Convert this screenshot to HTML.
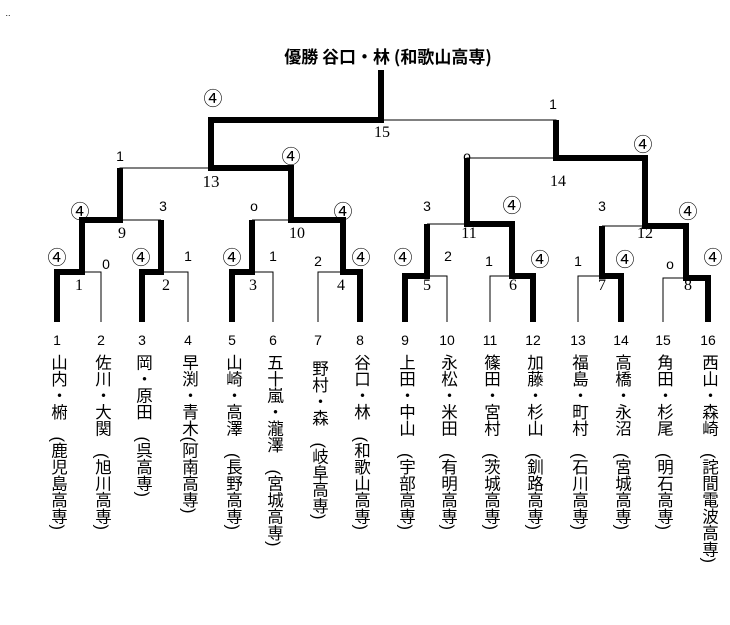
<!DOCTYPE html>
<html><head><meta charset="utf-8"><style>
body{margin:0;width:730px;height:625px;background:#fff;position:relative;overflow:hidden;font-family:"Liberation Serif","Noto Serif CJK SC","Noto Sans CJK JP",serif;}
svg{position:absolute;left:0;top:0}
.v{position:absolute;top:354px;writing-mode:vertical-rl;font-size:16.5px;line-height:17px;font-family:"Liberation Sans","Noto Sans CJK JP",sans-serif;color:#000;transform:translateX(-50%);}
</style></head><body>
<svg width="730" height="625" font-family="Liberation Sans, Noto Sans CJK JP, sans-serif" font-size="13" text-anchor="middle">
<text x="8" y="16" font-size="9">..</text>
<text x="388" y="63" font-size="17" font-weight="bold" font-family="Noto Sans CJK JP, sans-serif">優勝 谷口・林 (和歌山高専)</text>
<g stroke="#000" fill="none" stroke-width="1">
<path d="M381 120H556V158M120 220V168H211M467 224V158H556M120 220H161M252 220H291M427 224H467M602 226H645"/>
<path d="M82 272H101V322M161 272H188V322M252 272H273V322M318 322V272H343M427 276H447V322M490 322V276H512M578 322V276H602M663 322V278H686"/>
</g>
<g stroke="#000" fill="none" stroke-width="6" stroke-linejoin="miter">
<path d="M381 70V120H211V168H291V220H343V272H360V322"/>
<path d="M556 120V158H645V226H686V278H708V322"/>
<path d="M120 168V220H82V272H57V322"/>
<path d="M161 220V272H142V322"/>
<path d="M252 220V272H232V322"/>
<path d="M467 158V224H512V276H533V322"/>
<path d="M427 224V276H405V322"/>
<path d="M602 226V276H621V322"/>
</g>
<g font-size="14">
<g font-size="19">
<text x="213" y="105">④</text><text x="291" y="163">④</text><text x="643" y="151">④</text>
<text x="80" y="218">④</text><text x="343" y="218">④</text><text x="512" y="212">④</text><text x="688" y="218">④</text>
<text x="57" y="264">④</text><text x="141" y="264">④</text><text x="232" y="264">④</text><text x="361" y="264">④</text>
<text x="403" y="264">④</text><text x="540" y="266">④</text><text x="625" y="266">④</text><text x="713" y="264">④</text>
</g>
<text x="553" y="109">1</text>
<text x="382" y="137" font-family="Liberation Serif, serif" font-size="16">15</text>
<text x="120" y="161">1</text>
<text x="211" y="187" font-size="17" font-family="Liberation Serif, serif">13</text>
<text x="467" y="161">o</text>
<text x="558" y="186" font-family="Liberation Serif, serif" font-size="16">14</text>
<text x="163" y="211">3</text><text x="122" y="238" font-family="Liberation Serif, serif" font-size="16">9</text>
<text x="254" y="211">o</text><text x="297" y="238" font-family="Liberation Serif, serif" font-size="16">10</text>
<text x="427" y="211">3</text><text x="469" y="238" font-family="Liberation Serif, serif" font-size="16">11</text>
<text x="602" y="211">3</text><text x="645" y="238" font-family="Liberation Serif, serif" font-size="16">12</text>
<text x="106" y="269">0</text><text x="188" y="261">1</text><text x="273" y="261">1</text>
<text x="318" y="266">2</text><text x="448" y="261">2</text><text x="489" y="266">1</text>
<text x="578" y="266">1</text><text x="670" y="269">o</text>
<g font-family="Liberation Serif, serif" font-size="16">
<text x="79" y="290">1</text><text x="166" y="290">2</text><text x="253" y="290">3</text><text x="341" y="290">4</text>
<text x="427" y="290">5</text><text x="513" y="290">6</text><text x="602" y="290">7</text><text x="688" y="290">8</text>
</g>
</g>
<g font-size="14">
<text x="57" y="345">1</text><text x="101" y="345">2</text><text x="142" y="345">3</text><text x="188" y="345">4</text>
<text x="232" y="345">5</text><text x="273" y="345">6</text><text x="318" y="345">7</text><text x="360" y="345">8</text>
<text x="405" y="345">9</text><text x="447" y="345">10</text><text x="490" y="345">11</text><text x="533" y="345">12</text>
<text x="578" y="345">13</text><text x="621" y="345">14</text><text x="663" y="345">15</text><text x="708" y="345">16</text>
</g>
</svg>
<div class="v" style="left:57px">山内・椨　(鹿児島高専)</div>
<div class="v" style="left:101px">佐川・大関　(旭川高専)</div>
<div class="v" style="left:142px">岡・原田　(呉高専)</div>
<div class="v" style="left:188px">早渕・青木(阿南高専)</div>
<div class="v" style="left:232px">山崎・高澤　(長野高専)</div>
<div class="v" style="left:273px">五十嵐・瀧澤　(宮城高専)</div>
<div class="v" style="left:318px;top:360px">野村・森　(岐阜高専)</div>
<div class="v" style="left:360px">谷口・林　(和歌山高専)</div>
<div class="v" style="left:405px">上田・中山　(宇部高専)</div>
<div class="v" style="left:447px">永松・米田　(有明高専)</div>
<div class="v" style="left:490px">篠田・宮村　(茨城高専)</div>
<div class="v" style="left:533px">加藤・杉山　(釧路高専)</div>
<div class="v" style="left:578px">福島・町村　(石川高専)</div>
<div class="v" style="left:621px">高橋・永沼　(宮城高専)</div>
<div class="v" style="left:663px">角田・杉尾　(明石高専)</div>
<div class="v" style="left:708px">西山・森崎　(詫間電波高専)</div>
</body></html>
